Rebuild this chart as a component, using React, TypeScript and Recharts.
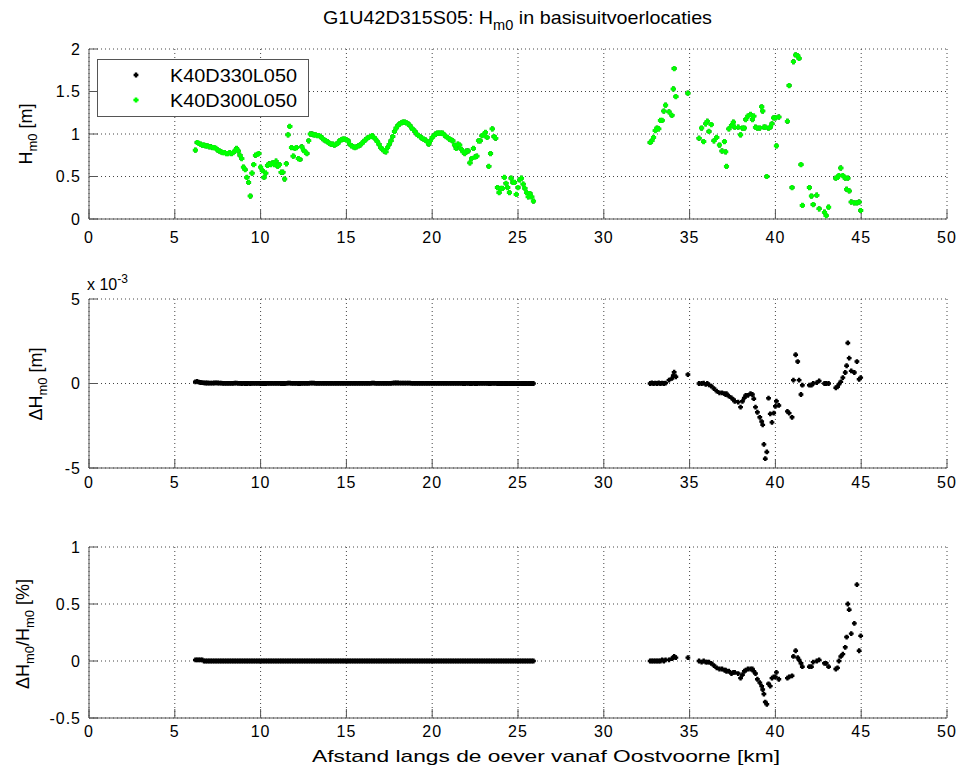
import { ScatterChart, Scatter, XAxis, YAxis, CartesianGrid, Legend } from "recharts";

const FONT = '"Liberation Sans", Arial, Helvetica, sans-serif';
const FRAME = "#555";
const GRID = "#444";
const GREEN = "#00ff00";

const kmTicks = [0, 5, 10, 15, 20, 25, 30, 35, 40, 45, 50];
const hTicks = [0, 0.5, 1, 1.5, 2];
const dhTicks = [-5, 0, 5];
const pctTicks = [-0.5, 0, 0.5, 1];

const seriesNames = ["K40D330L050", "K40D300L050"];
const seriesColors = ["#000000", GREEN];

// stretch 1: 6.2 .. 25.9 km
const seg1Km = [
  6.2, 6.3, 6.4, 6.5, 6.6, 6.7, 6.8, 6.9, 7.0, 7.1,
  7.2, 7.3, 7.4, 7.5, 7.6, 7.7, 7.8, 7.9, 8.0, 8.1,
  8.2, 8.3, 8.4, 8.5, 8.6, 8.7, 8.8, 8.9, 9.0, 9.1,
  9.2, 9.3, 9.4, 9.5, 9.6, 9.7, 9.8, 9.9, 10.0, 10.1,
  10.2, 10.3, 10.4, 10.5, 10.6, 10.7, 10.8, 10.9, 11.0, 11.1,
  11.2, 11.3, 11.4, 11.5, 11.6, 11.7, 11.8, 11.9, 12.0, 12.1,
  12.2, 12.3, 12.4, 12.5, 12.6, 12.7, 12.8, 12.9, 13.0, 13.1,
  13.2, 13.3, 13.4, 13.5, 13.6, 13.7, 13.8, 13.9, 14.0, 14.1,
  14.2, 14.3, 14.4, 14.5, 14.6, 14.7, 14.8, 14.9, 15.0, 15.1,
  15.2, 15.3, 15.4, 15.5, 15.6, 15.7, 15.8, 15.9, 16.0, 16.1,
  16.2, 16.3, 16.4, 16.5, 16.6, 16.7, 16.8, 16.9, 17.0, 17.1,
  17.2, 17.3, 17.4, 17.5, 17.6, 17.7, 17.8, 17.9, 18.0, 18.1,
  18.2, 18.3, 18.4, 18.5, 18.6, 18.7, 18.8, 18.9, 19.0, 19.1,
  19.2, 19.3, 19.4, 19.5, 19.6, 19.7, 19.8, 19.9, 20.0, 20.1,
  20.2, 20.3, 20.4, 20.5, 20.6, 20.7, 20.8, 20.9, 21.0, 21.1,
  21.2, 21.3, 21.4, 21.5, 21.6, 21.7, 21.8, 21.9, 22.0, 22.1,
  22.2, 22.3, 22.4, 22.5, 22.6, 22.7, 22.8, 22.9, 23.0, 23.1,
  23.2, 23.3, 23.4, 23.5, 23.6, 23.7, 23.8, 23.9, 24.0, 24.1,
  24.2, 24.3, 24.4, 24.5, 24.6, 24.7, 24.8, 24.9, 25.0, 25.1,
  25.2, 25.3, 25.4, 25.5, 25.6, 25.7, 25.8, 25.9,
];
const seg1H = [
  0.81, 0.90, 0.89, 0.88, 0.87, 0.87, 0.86, 0.86, 0.85, 0.85,
  0.84, 0.84, 0.83, 0.81, 0.80, 0.79, 0.78, 0.78, 0.77, 0.77,
  0.78, 0.77, 0.78, 0.80, 0.83, 0.80, 0.75, 0.71, 0.61, 0.58,
  0.49, 0.43, 0.27, 0.54, 0.64, 0.75, 0.76, 0.77, 0.61, 0.57,
  0.49, 0.54, 0.63, 0.65, 0.64, 0.66, 0.64, 0.68, 0.62, 0.64,
  0.55, 0.55, 0.47, 0.65, 0.99, 1.09, 0.84, 0.74, 0.83, 0.84,
  0.71, 0.70, 0.85, 0.81, 0.79, 0.77, 0.92, 1.00, 1.00, 0.99,
  0.99, 0.98, 0.98, 0.97, 0.95, 0.93, 0.92, 0.91, 0.89, 0.88,
  0.88, 0.87, 0.88, 0.89, 0.92, 0.93, 0.94, 0.94, 0.93, 0.92,
  0.88, 0.86, 0.85, 0.84, 0.85, 0.86, 0.87, 0.89, 0.91, 0.93,
  0.95, 0.96, 0.97, 0.98, 0.96, 0.94, 0.91, 0.88, 0.84, 0.82,
  0.80, 0.79, 0.84, 0.88, 0.92, 0.97, 1.03, 1.07, 1.10, 1.12,
  1.13, 1.14, 1.14, 1.13, 1.12, 1.10, 1.07, 1.05, 1.03, 1.00,
  0.98, 0.97, 0.95, 0.94, 0.93, 0.91, 0.88, 0.92, 0.96, 0.98,
  1.00, 1.01, 1.01, 1.01, 1.01, 0.99, 0.97, 0.96, 0.94, 0.93,
  0.92, 0.87, 0.83, 0.88, 0.87, 0.82, 0.79, 0.77, 0.80, 0.80,
  0.66, 0.71, 0.83, 0.73, 0.74, 0.92, 0.92, 0.98, 0.99, 1.02,
  0.96, 0.62, 0.77, 1.06, 0.97, 0.95, 0.37, 0.31, 0.36, 0.36,
  0.49, 0.42, 0.37, 0.31, 0.48, 0.43, 0.43, 0.29, 0.37, 0.46,
  0.48, 0.41, 0.36, 0.31, 0.26, 0.30, 0.26, 0.21,
];
// difference in units of 1e-3 m
const seg1dH = [
  0.10, 0.12, 0.08, 0.06, 0.05, 0.04, 0.03, 0.03, 0.02, 0.02,
  0.02, 0.03, 0.04, 0.03, 0.02, 0.02, 0.01, 0.01, 0.01, 0.01,
  0.01, 0.01, 0.01, 0.02, 0.02, 0.01, 0.01, 0, 0.01, 0,
  0, 0.01, 0, 0.01, 0.01, 0.01, 0.01, 0.01, 0, 0,
  0, 0, 0.01, 0.01, 0.01, 0.01, 0.01, 0.01, 0.01, 0.01,
  0, 0, 0, 0.01, 0.02, 0.02, 0.01, 0.01, 0.01, 0.01,
  0, 0, 0.01, 0.01, 0.01, 0.01, 0.01, 0.02, 0.02, 0.02,
  0.01, 0.01, 0.01, 0.01, 0.01, 0.01, 0.01, 0.01, 0.01, 0.01,
  0.01, 0.01, 0.01, 0.01, 0.01, 0.01, 0.01, 0.01, 0.01, 0.01,
  0.01, 0.01, 0.01, 0.01, 0.01, 0.01, 0.01, 0.01, 0.01, 0.01,
  0.01, 0.01, 0.01, 0.02, 0.02, 0.01, 0.01, 0.01, 0.01, 0.01,
  0.01, 0.01, 0.01, 0.01, 0.01, 0.02, 0.03, 0.03, 0.03, 0.02,
  0.02, 0.02, 0.02, 0.02, 0.02, 0.02, 0.01, 0.01, 0.01, 0.01,
  0.01, 0.01, 0.01, 0.01, 0.01, 0.01, 0.01, 0.01, 0.01, 0.01,
  0.01, 0.01, 0.01, 0.01, 0.01, 0.01, 0.01, 0.01, 0.01, 0.01,
  0.01, 0.01, 0.01, 0.01, 0.01, 0.01, 0, 0, 0.01, 0.01,
  0, 0, 0.01, 0, 0, 0.01, 0.01, 0.01, 0.01, 0.01,
  0.01, 0, 0, 0.01, 0.01, 0.01, 0, 0, 0, 0,
  0, 0, 0, 0, 0, 0, 0, 0, 0, 0,
  0, 0, 0, 0, 0, 0, 0, 0,
];
const seg1Pct = [
  0.01, 0.01, 0.01, 0.01, 0.01, 0, 0, 0, 0, 0,
  0, 0, 0, 0, 0, 0, 0, 0, 0, 0,
  0, 0, 0, 0, 0, 0, 0, 0, 0, 0,
  0, 0, 0, 0, 0, 0, 0, 0, 0, 0,
  0, 0, 0, 0, 0, 0, 0, 0, 0, 0,
  0, 0, 0, 0, 0, 0, 0, 0, 0, 0,
  0, 0, 0, 0, 0, 0, 0, 0, 0, 0,
  0, 0, 0, 0, 0, 0, 0, 0, 0, 0,
  0, 0, 0, 0, 0, 0, 0, 0, 0, 0,
  0, 0, 0, 0, 0, 0, 0, 0, 0, 0,
  0, 0, 0, 0, 0, 0, 0, 0, 0, 0,
  0, 0, 0, 0, 0, 0, 0, 0, 0, 0,
  0, 0, 0, 0, 0, 0, 0, 0, 0, 0,
  0, 0, 0, 0, 0, 0, 0, 0, 0, 0,
  0, 0, 0, 0, 0, 0, 0, 0, 0, 0,
  0, 0, 0, 0, 0, 0, 0, 0, 0, 0,
  0, 0, 0, 0, 0, 0, 0, 0, 0, 0,
  0, 0, 0, 0, 0, 0, 0, 0, 0, 0,
  0, 0, 0, 0, 0, 0, 0, 0, 0, 0,
  0, 0, 0, 0, 0, 0, 0, 0,
];

// stretch 2: 32.7 .. 45 km
const seg2Km = [
  32.7, 32.8, 32.9, 33.0, 33.1, 33.2, 33.3, 33.4, 33.5, 33.6,
  33.8, 33.97, 34.05, 34.1, 34.2, 34.9, 35.55, 35.7, 35.82, 35.94,
  36.03, 36.13, 36.26, 36.42, 36.58, 36.74, 36.89, 37.03, 37.1, 37.15,
  37.29, 37.44, 37.55, 37.63, 37.83, 37.97, 38.08, 38.19, 38.27, 38.4,
  38.55, 38.66, 38.74, 38.84, 38.95, 39.09, 39.2, 39.26, 39.33, 39.41,
  39.5, 39.6, 39.7, 39.8, 39.9, 40.0, 40.06, 40.2, 40.7, 40.8,
  40.97, 41.05, 41.18, 41.3, 41.38, 41.49, 41.57, 41.98, 42.1, 42.2,
  42.41, 42.55, 42.86, 42.96, 43.1, 43.52, 43.62, 43.7, 43.81, 43.93,
  44.07, 44.15, 44.22, 44.3, 44.42, 44.6, 44.75, 44.88, 44.97,
];
const seg2H = [
  0.90, 0.92, 0.96, 1.04, 1.07, 1.06, 1.16, 1.16, 1.27, 1.34,
  1.26, 1.22, 1.53, 1.77, 1.44, 1.48, 0.95, 1.07, 0.91, 1.12,
  1.15, 1.03, 1.11, 0.92, 0.96, 0.87, 0.80, 0.91, 0.79, 0.62,
  1.06, 1.10, 1.14, 1.08, 1.08, 0.99, 1.07, 1.07, 1.17, 1.21,
  1.23, 1.17, 1.21, 1.08, 1.07, 1.07, 1.32, 1.27, 1.08, 1.08,
  0.50, 1.07, 1.08, 1.12, 1.19, 1.19, 0.86, 1.20, 1.15, 1.57,
  0.37, 1.85, 1.93, 1.92, 1.89, 0.64, 0.16, 0.37, 0.27, 0.17,
  0.28, 0.12, 0.08, 0.04, 0.14, 0.48, 0.49, 0.51, 0.60, 0.51,
  0.48, 0.35, 0.48, 0.33, 0.20, 0.19, 0.19, 0.20, 0.10,
];
const seg2dH = [
  0, 0.03, 0, 0.02, 0, 0.03, 0, 0.02, 0, 0.02,
  0.20, 0.30, 0.47, 0.67, 0.40, 0.53, 0, 0, 0.02, -0.05,
  0, -0.08, -0.15, -0.30, -0.45, -0.55, -0.55, -0.60, -0.65, -0.60,
  -0.75, -0.85, -0.95, -1.05, -1.10, -1.40, -1.05, -0.85, -0.70, -0.70,
  -0.60, -0.65, -0.90, -1.40, -1.70, -2.00, -2.25, -2.45, -3.60, -4.45,
  -4.05, -0.87, -1.80, -2.30, -1.75, -1.35, -1.05, -1.30, -1.65, -1.75,
  -2.00, 0.20, 1.70, 1.30, 0.20, -0.65, -0.10, -0.10, -0.10, 0,
  0.05, 0.15, 0, 0, 0, -0.25, -0.20, -0.05, 0.10, 0.35,
  0.65, 1.05, 2.40, 1.50, 0.75, 0.65, 1.30, 0.25, 0.35,
];
const seg2Pct = [
  0, 0, 0, 0, 0, 0, 0, 0.01, 0, 0.01,
  0.01, 0.02, 0.03, 0.04, 0.03, 0.03, 0, -0.01, 0, -0.01,
  -0.01, -0.01, -0.02, -0.04, -0.06, -0.07, -0.07, -0.08, -0.08, -0.09,
  -0.09, -0.11, -0.10, -0.10, -0.11, -0.15, -0.12, -0.09, -0.08, -0.07,
  -0.07, -0.07, -0.09, -0.11, -0.16, -0.19, -0.22, -0.25, -0.29, -0.36,
  -0.38, -0.20, -0.22, -0.15, -0.14, -0.14, -0.10, -0.16, -0.15, -0.14,
  -0.13, 0.04, 0.09, 0.03, 0.01, -0.02, -0.05, -0.05, -0.05, -0.01,
  0, 0.01, -0.02, -0.02, -0.05, -0.07, -0.06, 0, 0.04, 0.06,
  0.12, 0.21, 0.50, 0.45, 0.24, 0.33, 0.67, 0.09, 0.22,
];

const allKm = [...seg1Km, ...seg2Km];
const toPoints = (ys: number[]) => allKm.map((x, i) => ({ x, y: ys[i] }));
const hPoints = toPoints([...seg1H, ...seg2H]);
const dhPoints = toPoints([...seg1dH, ...seg2dH]);
const pctPoints = toPoints([...seg1Pct, ...seg2Pct]);

const tickStyle = { fontSize: 16, fill: "#000", fontFamily: FONT, letterSpacing: 1 };
const noTick = () => <g />;

const plusPath = (cx: number, cy: number, r: number, h: number) =>
  `M${cx - r},${cy - h}h${2 * r}v${2 * h}h${-2 * r}z M${cx - h},${cy - r}h${2 * h}v${2 * r}h${-2 * h}z`;

const dot = (r: number, h: number, color: string) => (p: any) => {
  if (p.cx == null || p.cy == null) return <g />;
  return <path d={plusPath(p.cx, p.cy, r, h)} fill={color} />;
};
const blackDot = dot(2.4, 1.2, "#000");
const greenDot = dot(2.6, 1.3, GREEN);

function frame(yDomain: [number, number], yTicks: number[], xTickMargin: number) {
  return [
    <CartesianGrid key="g" xAxisId="b" yAxisId="l" stroke={GRID} strokeDasharray="1 3" />,
    <XAxis key="xb" xAxisId="b" type="number" dataKey="x" domain={[0, 50]} ticks={kmTicks} interval={0}
      allowDataOverflow height={30} stroke={FRAME} tickSize={-9} tickMargin={xTickMargin} tick={tickStyle} />,
    <XAxis key="xt" xAxisId="t" orientation="top" type="number" dataKey="x" domain={[0, 50]} ticks={kmTicks}
      interval={0} allowDataOverflow height={0} stroke={FRAME} tickSize={-9} tick={noTick} />,
    <YAxis key="yl" yAxisId="l" type="number" dataKey="y" domain={yDomain} ticks={yTicks} interval={0}
      allowDataOverflow width={50} stroke={FRAME} tickSize={-9} tickMargin={17} tick={tickStyle} />,
    <YAxis key="yr" yAxisId="r" orientation="right" type="number" dataKey="y" domain={yDomain} ticks={yTicks}
      interval={0} allowDataOverflow width={0} stroke={FRAME} tickSize={-9} tick={noTick} />,
  ];
}

const LegendBox = () => (
  <svg width={213} height={59} style={{ display: "block" }}>
    <rect x={0.5} y={0.5} width={211} height={57} fill="#fff" stroke={FRAME} />
    {seriesNames.map((name, i) => (
      <g key={name}>
        <path d={i === 0 ? plusPath(39, 16, 2.4, 1.2) : plusPath(39, 41, 2.6, 1.3)} fill={seriesColors[i]} />
        <text x={73} y={23 + i * 25} fontSize={18} fontFamily={FONT} textLength={127} lengthAdjust="spacingAndGlyphs">
          {name}
        </text>
      </g>
    ))}
  </svg>
);

export default function App() {
  return (
    <div style={{ position: "absolute", left: 0, top: 0, width: 963, height: 776, background: "#fff", fontFamily: FONT }}>
      <div style={{ position: "absolute", left: 0, top: 0 }}>
        <ScatterChart width={963} height={260} margin={{ top: 49, right: 16, bottom: 11, left: 39 }}>
          {frame([0, 2], hTicks, 22)}
          <Scatter name={seriesNames[0]} data={hPoints} xAxisId="b" yAxisId="l" fill="#000" shape={blackDot} isAnimationActive={false} />
          <Scatter name={seriesNames[1]} data={hPoints} xAxisId="b" yAxisId="l" fill={GREEN} shape={greenDot} isAnimationActive={false} />
          <Legend verticalAlign="middle" align="center" layout="horizontal"
            wrapperStyle={{ left: 97, top: 59, width: 213, height: 59 }} content={() => <LegendBox />} />
        </ScatterChart>
      </div>
      <div style={{ position: "absolute", left: 0, top: 260 }}>
        <ScatterChart width={963} height={260} margin={{ top: 39, right: 16, bottom: 22, left: 39 }}>
          {frame([-5, 5], dhTicks, 18)}
          <Scatter name={seriesNames[0]} data={dhPoints} xAxisId="b" yAxisId="l" fill="#000" shape={blackDot} isAnimationActive={false} />
        </ScatterChart>
      </div>
      <div style={{ position: "absolute", left: 0, top: 520 }}>
        <ScatterChart width={963} height={256} margin={{ top: 27, right: 16, bottom: 28, left: 39 }}>
          {frame([-0.5, 1], pctTicks, 17)}
          <Scatter name={seriesNames[0]} data={pctPoints} xAxisId="b" yAxisId="l" fill="#000" shape={blackDot} isAnimationActive={false} />
        </ScatterChart>
      </div>
      <svg width={963} height={776} style={{ position: "absolute", left: 0, top: 0, pointerEvents: "none" }}
        fontFamily={FONT} fill="#000">
        <text x={323} y={24} fontSize={19} textLength={389} lengthAdjust="spacingAndGlyphs">
          <tspan>G1U42D315S05: H</tspan>
          <tspan fontSize={14} dy={6}>m0</tspan>
          <tspan dy={-6}> in basisuitvoerlocaties</tspan>
        </text>
        <text transform="translate(31.5,134) rotate(-90)" textAnchor="middle" fontSize={18}>
          <tspan>H</tspan>
          <tspan fontSize={13} dy={5}>m0</tspan>
          <tspan dy={-5}> [m]</tspan>
        </text>
        <text x={87} y={290} fontSize={16}>
          <tspan>x 10</tspan>
          <tspan fontSize={12} dy={-7}>-3</tspan>
        </text>
        <text transform="translate(41.5,384) rotate(-90)" textAnchor="middle" fontSize={18}>
          <tspan>ΔH</tspan>
          <tspan fontSize={13} dy={5}>m0</tspan>
          <tspan dy={-5}> [m]</tspan>
        </text>
        <text transform="translate(28.5,634) rotate(-90)" textAnchor="middle" fontSize={18}>
          <tspan>ΔH</tspan>
          <tspan fontSize={13} dy={5}>m0</tspan>
          <tspan dy={-5}>/H</tspan>
          <tspan fontSize={13} dy={5}>m0</tspan>
          <tspan dy={-5}> [%]</tspan>
        </text>
        <text x={312} y={761.5} fontSize={17} textLength={468} lengthAdjust="spacingAndGlyphs">
          Afstand langs de oever vanaf Oostvoorne [km]
        </text>
      </svg>
    </div>
  );
}
